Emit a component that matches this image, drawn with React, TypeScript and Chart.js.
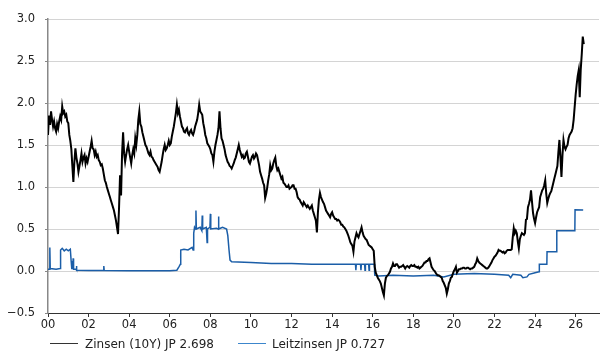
import React, { useEffect, useRef } from "react";
import { Chart, registerables } from "chart.js";

Chart.register(...registerables);

const zinsLabel = "Zinsen (10Y) JP 2.698";
const leitLabel = "Leitzinsen JP 0.727";

const xMin = 2000;
const xMax = 2027.15;
const xStep = 2;
const yMin = -0.5;
const yMax = 3.0;
const yStep = 0.5;

// 10Y yield, one reading every 0.05 year starting Jan 2000
const zinsStart = 2000;
const zinsStep = 0.05;
const zinsValues = [
  1.62, 1.85, 1.74, 1.9, 1.8, 1.72, 1.78, 1.7, 1.66, 1.75, 1.7, 1.78, 1.84, 1.8, 1.96, 1.88, 1.9, 1.84, 1.86, 1.78,
  1.76, 1.62, 1.55, 1.45, 1.25, 1.06, 1.3, 1.46, 1.35, 1.28, 1.18, 1.25, 1.32, 1.4, 1.3, 1.35, 1.38, 1.28, 1.34, 1.3,
  1.36, 1.42, 1.48, 1.55, 1.46, 1.45, 1.38, 1.42, 1.36, 1.38, 1.32, 1.3, 1.26, 1.27, 1.22, 1.15, 1.08, 1.05, 1.0, 0.96,
  0.92, 0.88, 0.84, 0.8, 0.76, 0.72, 0.66, 0.6, 0.52, 0.44, 0.75, 1.14, 0.9, 1.4, 1.65, 1.4, 1.3, 1.38, 1.45, 1.5,
  1.42, 1.35, 1.28, 1.38, 1.45, 1.4, 1.58, 1.5, 1.62, 1.8, 1.9, 1.75, 1.72, 1.65, 1.6, 1.55, 1.5, 1.48, 1.44, 1.4,
  1.38, 1.42, 1.36, 1.35, 1.32, 1.3, 1.28, 1.26, 1.24, 1.2, 1.18, 1.24, 1.3, 1.38, 1.45, 1.5, 1.44, 1.46, 1.5, 1.55,
  1.5, 1.52, 1.6, 1.66, 1.72, 1.8, 1.88, 1.98, 1.88, 1.92, 1.84, 1.78, 1.72, 1.7, 1.66, 1.65, 1.68, 1.7, 1.64, 1.62,
  1.66, 1.68, 1.64, 1.62, 1.66, 1.72, 1.76, 1.8, 1.88, 1.98, 1.9, 1.88, 1.86, 1.76, 1.7, 1.62, 1.58, 1.52, 1.5, 1.48,
  1.45, 1.4, 1.38, 1.3, 1.42, 1.5, 1.56, 1.62, 1.7, 1.9, 1.7, 1.58, 1.55, 1.5, 1.45, 1.38, 1.34, 1.3, 1.28, 1.25,
  1.24, 1.22, 1.25, 1.28, 1.32, 1.35, 1.4, 1.45, 1.5, 1.44, 1.4, 1.36, 1.38, 1.34, 1.35, 1.4, 1.42, 1.36, 1.3, 1.28,
  1.32, 1.36, 1.38, 1.34, 1.36, 1.4, 1.38, 1.32, 1.26, 1.18, 1.14, 1.1, 1.05, 1.02, 0.87, 0.92, 0.99, 1.08, 1.15, 1.26,
  1.2, 1.22, 1.28, 1.32, 1.35, 1.25, 1.2, 1.22, 1.18, 1.14, 1.1, 1.12, 1.05, 1.04, 1.02, 1.0, 1.0, 1.02, 0.98, 0.99,
  1.0, 1.02, 1.02, 0.98, 0.98, 0.94, 0.88, 0.86, 0.85, 0.82, 0.8, 0.78, 0.82, 0.8, 0.78, 0.76, 0.78, 0.76, 0.74, 0.76,
  0.78, 0.72, 0.68, 0.64, 0.6, 0.46, 0.7, 0.85, 0.93, 0.88, 0.85, 0.82, 0.8, 0.76, 0.72, 0.7, 0.68, 0.66, 0.64, 0.68,
  0.7, 0.66, 0.64, 0.62, 0.62, 0.6, 0.61, 0.6, 0.58, 0.55, 0.55, 0.53, 0.52, 0.5, 0.48, 0.45, 0.42, 0.38, 0.34, 0.32,
  0.3, 0.23, 0.35, 0.4, 0.45, 0.42, 0.4, 0.44, 0.48, 0.52, 0.46, 0.42, 0.4, 0.38, 0.37, 0.34, 0.31, 0.3, 0.29, 0.28,
  0.26, 0.24, 0.05, -0.02, -0.05, -0.08, -0.1, -0.12, -0.15, -0.2, -0.25, -0.29, -0.15, -0.08, -0.06, -0.05, -0.03, -0.01, 0.03, 0.05,
  0.09, 0.06, 0.06, 0.08, 0.08, 0.06, 0.04, 0.05, 0.05, 0.06, 0.07, 0.05, 0.03, 0.05, 0.06, 0.05, 0.04, 0.06, 0.07, 0.06,
  0.06, 0.07, 0.05, 0.05, 0.04, 0.05, 0.03, 0.04, 0.05, 0.06, 0.08, 0.1, 0.1, 0.12, 0.12, 0.14, 0.15, 0.1, 0.05, 0.03,
  0.01, 0.0, -0.02, -0.04, -0.05, -0.05, -0.06, -0.07, -0.08, -0.12, -0.14, -0.17, -0.2, -0.27, -0.22, -0.15, -0.12, -0.08, -0.07, -0.03,
  0.0, 0.02, 0.05, -0.02, 0.0, 0.02, 0.02, 0.03, 0.03, 0.04, 0.04, 0.03, 0.03, 0.04, 0.04, 0.03, 0.02, 0.03, 0.03, 0.04,
  0.05, 0.08, 0.1, 0.15, 0.12, 0.1, 0.09, 0.08, 0.07, 0.06, 0.05, 0.04, 0.03, 0.03, 0.04, 0.06, 0.08, 0.1, 0.13, 0.15,
  0.17, 0.18, 0.2, 0.22, 0.25, 0.24, 0.24, 0.23, 0.22, 0.23, 0.21, 0.22, 0.24, 0.25, 0.25, 0.25, 0.25, 0.26, 0.4, 0.51,
  0.45, 0.48, 0.45, 0.35, 0.27, 0.38, 0.42, 0.45, 0.44, 0.43, 0.45, 0.61, 0.62, 0.76, 0.8, 0.85, 0.96, 0.82, 0.69, 0.62,
  0.57, 0.64, 0.7, 0.73, 0.76, 0.88, 0.92, 0.96, 0.98, 1.02, 1.08, 0.92, 0.81, 0.86, 0.9, 0.93, 0.95, 1.0, 1.05, 1.1,
  1.15, 1.2, 1.25, 1.42, 1.56, 1.35, 1.12, 1.38, 1.56, 1.48, 1.45, 1.48, 1.5, 1.58, 1.62, 1.64, 1.66, 1.7, 1.8, 1.95,
  2.1, 2.22, 2.32, 2.39, 2.07, 2.4, 2.58, 2.79, 2.7,
];

const leitYears = [
  2000.0, 2000.08, 2000.09, 2000.11, 2000.4, 2000.6, 2000.62, 2000.7, 2000.8, 2000.9,
  2001.0, 2001.1, 2001.14, 2001.17, 2001.22, 2001.24, 2001.26, 2001.38, 2001.4, 2001.42,
  2002.0, 2002.74, 2002.75, 2002.77, 2004.0, 2005.0, 2006.0, 2006.35, 2006.45, 2006.52,
  2006.54, 2006.7, 2006.9, 2007.1, 2007.15, 2007.18, 2007.22, 2007.27, 2007.29, 2007.31,
  2007.5, 2007.58, 2007.6, 2007.62, 2007.8, 2007.84, 2007.86, 2007.98, 2008.0, 2008.02,
  2008.3, 2008.38, 2008.4, 2008.42, 2008.6, 2008.8, 2008.86, 2008.92, 2008.97, 2009.05,
  2010.0, 2011.0, 2012.0, 2013.0, 2014.0, 2015.15, 2015.17, 2015.19, 2015.4, 2015.42,
  2015.44, 2015.6, 2015.62, 2015.64, 2015.8, 2015.82, 2015.84, 2016.08, 2016.1, 2016.3,
  2017.0, 2018.0, 2019.0, 2019.5, 2020.0, 2021.0, 2022.0, 2022.7, 2022.8, 2022.9,
  2023.3, 2023.4, 2023.6, 2023.7, 2024.0, 2024.2, 2024.21, 2024.58, 2024.59, 2025.06,
  2025.07, 2025.96, 2025.97, 2026.37,
];

const leitValues = [
  0.02, 0.02, 0.28, 0.03, 0.02, 0.03, 0.25, 0.27, 0.24, 0.26,
  0.24, 0.26, 0.12, 0.03, 0.03, 0.15, 0.02, 0.02, 0.06, 0.01,
  0.005, 0.005, 0.06, 0.005, 0.002, 0.003, 0.003, 0.01, 0.05, 0.08,
  0.25, 0.26, 0.25, 0.28, 0.25, 0.45, 0.52, 0.5, 0.72, 0.5,
  0.52, 0.48, 0.66, 0.5, 0.52, 0.34, 0.5, 0.52, 0.68, 0.5,
  0.51, 0.5, 0.65, 0.5, 0.52, 0.5, 0.42, 0.25, 0.13, 0.11,
  0.1, 0.09, 0.09, 0.08, 0.08, 0.08, 0.01, 0.08, 0.08, 0.01,
  0.08, 0.08, 0.01, 0.08, 0.08, 0.01, 0.08, 0.08, -0.05, -0.06,
  -0.05, -0.06, -0.05, -0.07, -0.04, -0.03, -0.04, -0.05, -0.08, -0.04,
  -0.05, -0.08, -0.07, -0.04, -0.02, -0.01, 0.08, 0.08, 0.23, 0.23,
  0.48, 0.48, 0.73, 0.727,
];

const zinsColor = "#000000";
const leitColor = "#1b5ea8";
const fontFamily = 'Verdana, "DejaVu Sans", sans-serif';

export default function App() {
  const canvasRef = useRef<HTMLCanvasElement | null>(null);

  useEffect(() => {
    const canvas = canvasRef.current;
    if (!canvas) return;
    const chart = new Chart(canvas, {
      type: "line",
      data: {
        datasets: [
          {
            label: zinsLabel,
            data: zinsValues.map((y, i) => ({ x: zinsStart + i * zinsStep, y })),
            borderColor: zinsColor,
            backgroundColor: zinsColor,
            borderWidth: 2,
            pointRadius: 0,
            tension: 0,
          },
          {
            label: leitLabel,
            data: leitYears.map((x, i) => ({ x, y: leitValues[i] })),
            borderColor: leitColor,
            backgroundColor: leitColor,
            borderWidth: 1.5,
            pointRadius: 0,
            tension: 0,
          },
        ],
      },
      options: {
        responsive: false,
        animation: false,
        events: [],
        layout: { padding: { top: 19, right: 2, bottom: 17, left: 0 } },
        plugins: {
          legend: { display: false },
          tooltip: { enabled: false },
        },
        scales: {
          x: {
            type: "linear",
            min: xMin,
            max: xMax,
            afterFit: (s: any) => {
              s.height = 22;
            },
            ticks: {
              stepSize: xStep,
              includeBounds: false,
              autoSkip: false,
              maxRotation: 0,
              padding: 1,
              color: "#222",
              font: { family: fontFamily, size: 11.5 },
              callback: (v: any) => String(Math.round(Number(v)) % 100).padStart(2, "0"),
            },
            grid: {
              drawOnChartArea: false,
              drawTicks: true,
              tickLength: 4,
              tickColor: "#333",
            },
            border: { display: true, color: "#333", width: 1 },
          },
          y: {
            min: yMin,
            max: yMax,
            afterFit: (s: any) => {
              s.width = 48;
            },
            ticks: {
              stepSize: yStep,
              padding: 10,
              color: "#222",
              font: { family: fontFamily, size: 11.5 },
              callback: (v: any) => {
                const n = Number(v);
                return (n < 0 ? "\u2212" : "") + Math.abs(n).toFixed(1);
              },
            },
            grid: {
              color: "#a8a8a8",
              lineWidth: 1,
              drawTicks: true,
              tickLength: 3,
              tickColor: "#888",
              tickBorderDash: [],
            },
            border: { display: true, color: "#888", width: 1.5, dash: [1, 1] },
          },
        },
      },
    });
    return () => chart.destroy();
  }, []);

  const textStyle: React.CSSProperties = {
    position: "absolute",
    top: 337,
    fontFamily,
    fontSize: 12,
    lineHeight: "14px",
    color: "#222",
    whiteSpace: "nowrap",
  };

  return (
    <div
      style={{
        position: "absolute",
        left: 0,
        top: 0,
        width: 601,
        height: 352,
        background: "#fff",
        overflow: "hidden",
      }}
    >
      <canvas ref={canvasRef} width={601} height={352} style={{ display: "block" }} />
      <div style={{ position: "absolute", left: 50, top: 343, width: 28, borderTop: "1px solid #333" }} />
      <span style={{ ...textStyle, left: 85 }}>{zinsLabel}</span>
      <div style={{ position: "absolute", left: 238, top: 343, width: 28, borderTop: "1px solid #3c86cc" }} />
      <span style={{ ...textStyle, left: 272 }}>{leitLabel}</span>
    </div>
  );
}
